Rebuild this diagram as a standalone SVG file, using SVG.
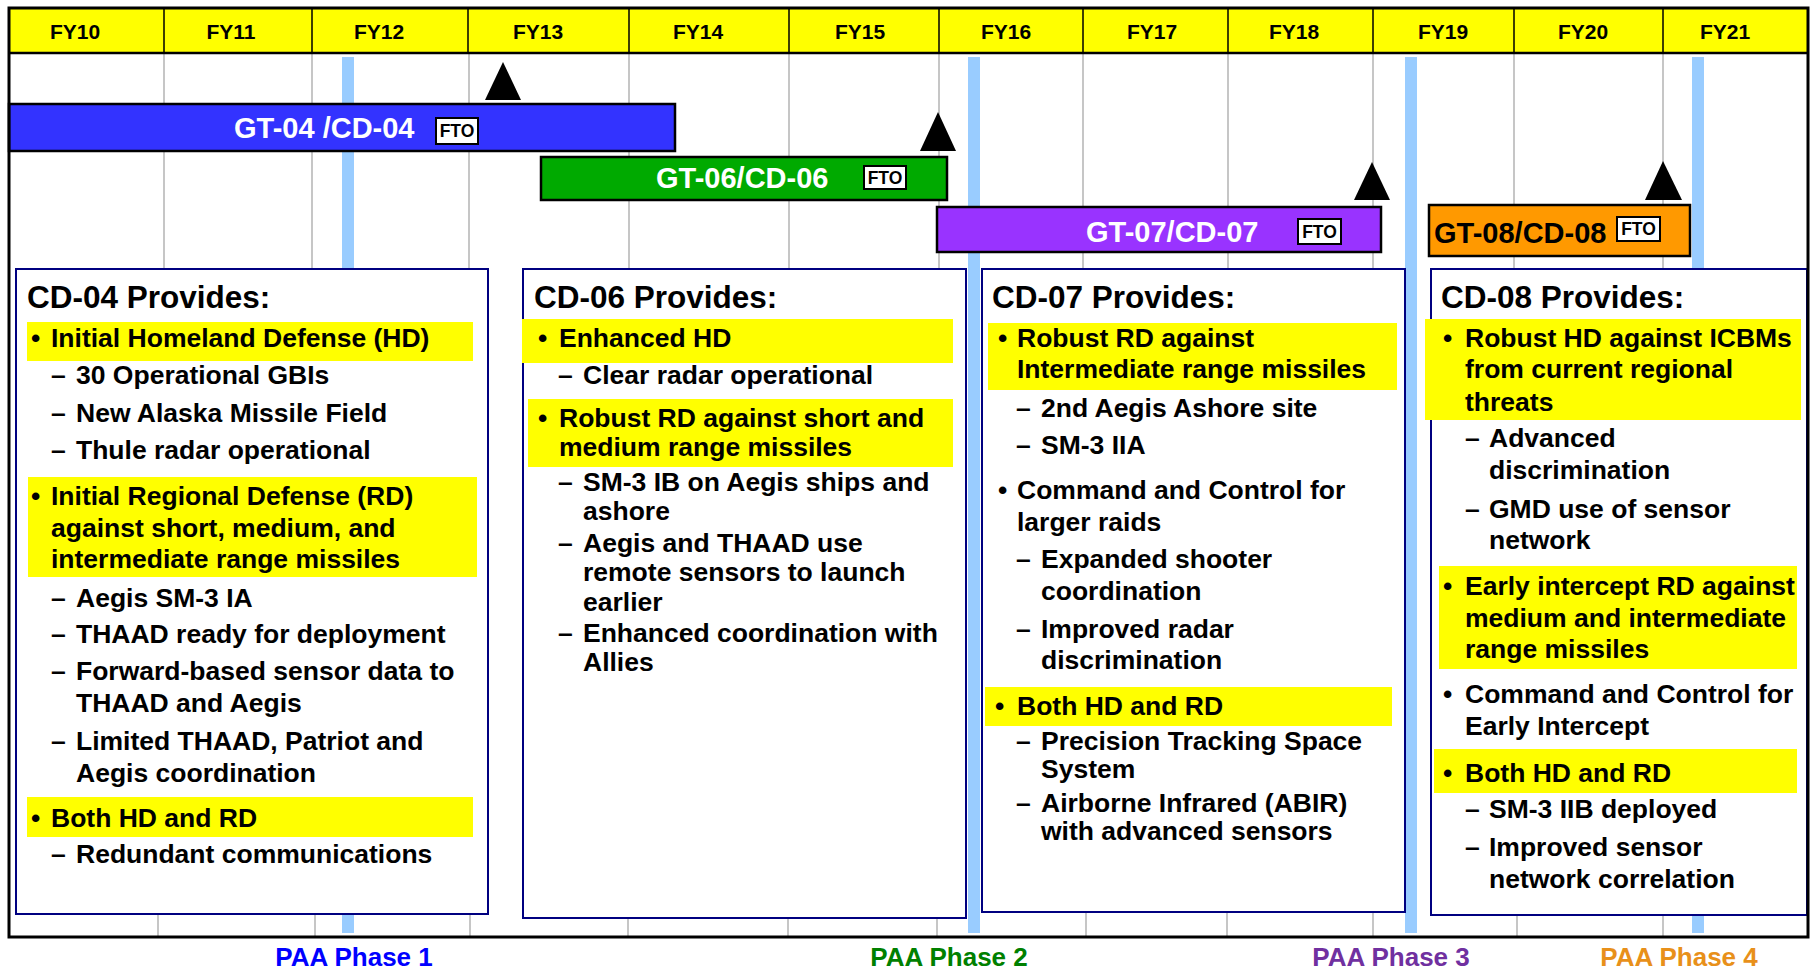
<svg xmlns="http://www.w3.org/2000/svg" width="1810" height="970" viewBox="0 0 1810 970">
<style>
text{font-family:"Liberation Sans",Arial,sans-serif;font-weight:bold}
.fy{font-size:21px;text-anchor:middle;fill:#000}
.t{font-size:26.5px;fill:#000}
.ti{font-size:31.5px;fill:#000}
.bt{font-size:29px;fill:#fff}
.fto{font-size:17.5px;fill:#000;text-anchor:middle}
.ftob{fill:#fff;stroke:#000;stroke-width:2}
.bar{stroke:#000;stroke-width:2.5}
.hl{fill:#ffff00}
.box{fill:#fff;stroke:#000080;stroke-width:2}
.grid{stroke:#b4b4b4;stroke-width:1.5}
.div{stroke:#000;stroke-width:1.5}
.band{fill:#99ccff}
.tri{fill:#000}
.paa{font-size:26px;text-anchor:middle}
</style>
<rect x="0" y="0" width="1810" height="970" fill="#fff"/>
<g id="grid">
<path class="grid" d="M164 53V270M312 53V270M469 53V270M629 53V270M789 53V270M939 53V270M1083 53V270M1228 53V270M1373 53V270M1514 53V270M1663 53V270"/>
<path class="grid" d="M158 910V937M315 910V937M470 910V937M628 910V937M788 910V937M937 910V937M1086 910V937M1227 910V937M1373 910V937M1517 910V937M1663 910V937"/>
<rect class="band" x="342" y="57" width="12" height="876"/>
<rect class="band" x="968" y="57" width="12" height="876"/>
<rect class="band" x="1405" y="57" width="12" height="876"/>
<rect class="band" x="1692" y="57" width="12" height="876"/>
</g>
<g id="header">
<rect x="9" y="8" width="1799" height="45" fill="#ffff00"/>
<path class="div" d="M164 9V53M312 9V53M468 9V53M629 9V53M789 9V53M939 9V53M1083 9V53M1228 9V53M1373 9V53M1514 9V53M1663 9V53"/>
<line x1="9" y1="53" x2="1808" y2="53" stroke="#000" stroke-width="2.5"/>
<text class="fy" x="75" y="39">FY10</text>
<text class="fy" x="231" y="39">FY11</text>
<text class="fy" x="379" y="39">FY12</text>
<text class="fy" x="538" y="39">FY13</text>
<text class="fy" x="698" y="39">FY14</text>
<text class="fy" x="860" y="39">FY15</text>
<text class="fy" x="1006" y="39">FY16</text>
<text class="fy" x="1152" y="39">FY17</text>
<text class="fy" x="1294" y="39">FY18</text>
<text class="fy" x="1443" y="39">FY19</text>
<text class="fy" x="1583" y="39">FY20</text>
<text class="fy" x="1725" y="39">FY21</text>
</g>
<g id="milestones">
<polygon class="tri" points="503,62 521,100 485,100"/>
<polygon class="tri" points="938,112 956,151 920,151"/>
<polygon class="tri" points="1372,162 1390,200 1354,200"/>
<polygon class="tri" points="1663,161 1682,200 1645,200"/>
</g>
<g id="bar-gt04">
<rect class="bar" x="9" y="104" width="666" height="47" fill="#3333ff"/>
<text class="bt" x="234" y="138">GT-04 /CD-04</text>
<rect class="ftob" x="436" y="118" width="42" height="26"/>
<text class="fto" x="457" y="137">FTO</text>
</g>
<g id="bar-gt06">
<rect class="bar" x="541" y="157" width="406" height="43" fill="#00aa00"/>
<text class="bt" x="656" y="188">GT-06/CD-06</text>
<rect class="ftob" x="864" y="166" width="42" height="23"/>
<text class="fto" x="885" y="184">FTO</text>
</g>
<g id="bar-gt07">
<rect class="bar" x="937" y="207" width="444" height="45" fill="#9933ff"/>
<text class="bt" x="1086" y="242">GT-07/CD-07</text>
<rect class="ftob" x="1298" y="219" width="43" height="25"/>
<text class="fto" x="1319.5" y="238">FTO</text>
</g>
<g id="bar-gt08">
<rect class="bar" x="1429" y="205" width="261" height="51" fill="#ff9900"/>
<text class="bt" x="1434" y="243" fill="#000" style="fill:#000">GT-08/CD-08</text>
<rect class="ftob" x="1617" y="217" width="43" height="24"/>
<text class="fto" x="1638.5" y="235">FTO</text>
</g>
<g id="box-cd04">
<rect class="box" x="16" y="269" width="472" height="645"/>
<text class="ti" x="27" y="308">CD-04 Provides:</text>
<rect class="hl" x="27" y="322" width="446" height="39"/>
<text class="t" x="31" y="347">•</text><text class="t" x="51" y="347">Initial Homeland Defense (HD)</text>
<text class="t" x="51" y="384">–</text><text class="t" x="76" y="384">30 Operational GBIs</text>
<text class="t" x="51" y="422">–</text><text class="t" x="76" y="422">New Alaska Missile Field</text>
<text class="t" x="51" y="459">–</text><text class="t" x="76" y="459">Thule radar operational</text>
<rect class="hl" x="28" y="477" width="449" height="100"/>
<text class="t" x="31" y="505">•</text><text class="t" x="51" y="505">Initial Regional Defense (RD)</text>
<text class="t" x="51" y="537">against short, medium, and</text>
<text class="t" x="51" y="568">intermediate range missiles</text>
<text class="t" x="51" y="607">–</text><text class="t" x="76" y="607">Aegis SM-3 IA</text>
<text class="t" x="51" y="643">–</text><text class="t" x="76" y="643">THAAD ready for deployment</text>
<text class="t" x="51" y="680">–</text><text class="t" x="76" y="680">Forward-based sensor data to</text>
<text class="t" x="76" y="712">THAAD and Aegis</text>
<text class="t" x="51" y="750">–</text><text class="t" x="76" y="750">Limited THAAD, Patriot and</text>
<text class="t" x="76" y="782">Aegis coordination</text>
<rect class="hl" x="27" y="797" width="446" height="40"/>
<text class="t" x="31" y="827">•</text><text class="t" x="51" y="827">Both HD and RD</text>
<text class="t" x="51" y="863">–</text><text class="t" x="76" y="863">Redundant communications</text>
</g>
<g id="box-cd06">
<rect class="box" x="523" y="269" width="443" height="649"/>
<text class="ti" x="534" y="308">CD-06 Provides:</text>
<rect class="hl" x="522" y="319" width="431" height="44"/>
<text class="t" x="538" y="347">•</text><text class="t" x="559" y="347">Enhanced HD</text>
<text class="t" x="558" y="384">–</text><text class="t" x="583" y="384">Clear radar operational</text>
<rect class="hl" x="528" y="399" width="425" height="68"/>
<text class="t" x="538" y="427">•</text><text class="t" x="559" y="427">Robust RD against short and</text>
<text class="t" x="559" y="456">medium range missiles</text>
<text class="t" x="558" y="491">–</text><text class="t" x="583" y="491">SM-3 IB on Aegis ships and</text>
<text class="t" x="583" y="520">ashore</text>
<text class="t" x="558" y="552">–</text><text class="t" x="583" y="552">Aegis and THAAD use</text>
<text class="t" x="583" y="581">remote sensors to launch</text>
<text class="t" x="583" y="611">earlier</text>
<text class="t" x="558" y="642">–</text><text class="t" x="583" y="642">Enhanced coordination with</text>
<text class="t" x="583" y="671">Allies</text>
</g>
<g id="box-cd07">
<rect class="box" x="982" y="269" width="423" height="643"/>
<text class="ti" x="992" y="308">CD-07 Provides:</text>
<rect class="hl" x="988" y="323" width="409" height="67"/>
<text class="t" x="998" y="347">•</text><text class="t" x="1017" y="347">Robust RD against</text>
<text class="t" x="1017" y="378">Intermediate range missiles</text>
<text class="t" x="1016" y="417">–</text><text class="t" x="1041" y="417">2nd Aegis Ashore site</text>
<text class="t" x="1016" y="454">–</text><text class="t" x="1041" y="454">SM-3 IIA</text>
<text class="t" x="998" y="499">•</text><text class="t" x="1017" y="499">Command and Control for</text>
<text class="t" x="1017" y="531">larger raids</text>
<text class="t" x="1016" y="568">–</text><text class="t" x="1041" y="568">Expanded shooter</text>
<text class="t" x="1041" y="600">coordination</text>
<text class="t" x="1016" y="638">–</text><text class="t" x="1041" y="638">Improved radar</text>
<text class="t" x="1041" y="669">discrimination</text>
<rect class="hl" x="985" y="687" width="407" height="39"/>
<text class="t" x="995" y="715">•</text><text class="t" x="1017" y="715">Both HD and RD</text>
<text class="t" x="1016" y="750">–</text><text class="t" x="1041" y="750">Precision Tracking Space</text>
<text class="t" x="1041" y="778">System</text>
<text class="t" x="1016" y="812">–</text><text class="t" x="1041" y="812">Airborne Infrared (ABIR)</text>
<text class="t" x="1041" y="840">with advanced sensors</text>
</g>
<g id="box-cd08">
<rect class="box" x="1431" y="269" width="376" height="646"/>
<text class="ti" x="1441" y="308">CD-08 Provides:</text>
<rect class="hl" x="1425" y="319" width="376" height="101"/>
<text class="t" x="1443" y="347">•</text><text class="t" x="1465" y="347">Robust HD against ICBMs</text>
<text class="t" x="1465" y="378">from current regional</text>
<text class="t" x="1465" y="411">threats</text>
<text class="t" x="1465" y="447">–</text><text class="t" x="1489" y="447">Advanced</text>
<text class="t" x="1489" y="479">discrimination</text>
<text class="t" x="1465" y="518">–</text><text class="t" x="1489" y="518">GMD use of sensor</text>
<text class="t" x="1489" y="549">network</text>
<rect class="hl" x="1439" y="566" width="358" height="103"/>
<text class="t" x="1443" y="595">•</text><text class="t" x="1465" y="595">Early intercept RD against</text>
<text class="t" x="1465" y="627">medium and intermediate</text>
<text class="t" x="1465" y="658">range missiles</text>
<text class="t" x="1443" y="703">•</text><text class="t" x="1465" y="703">Command and Control for</text>
<text class="t" x="1465" y="735">Early Intercept</text>
<rect class="hl" x="1434" y="749" width="363" height="44"/>
<text class="t" x="1443" y="782">•</text><text class="t" x="1465" y="782">Both HD and RD</text>
<text class="t" x="1465" y="818">–</text><text class="t" x="1489" y="818">SM-3 IIB deployed</text>
<text class="t" x="1465" y="856">–</text><text class="t" x="1489" y="856">Improved sensor</text>
<text class="t" x="1489" y="888">network correlation</text>
</g>
<g id="frame">
<rect x="9" y="8" width="1799" height="929" fill="none" stroke="#000" stroke-width="3"/>
</g>
<g id="phases">
<text class="paa" x="354" y="966" fill="#0000ff">PAA Phase 1</text>
<text class="paa" x="949" y="966" fill="#008000">PAA Phase 2</text>
<text class="paa" x="1391" y="966" fill="#7030a0">PAA Phase 3</text>
<text class="paa" x="1679" y="966" fill="#e8901a">PAA Phase 4</text>
</g>
<g id="connectors"/>
</svg>
